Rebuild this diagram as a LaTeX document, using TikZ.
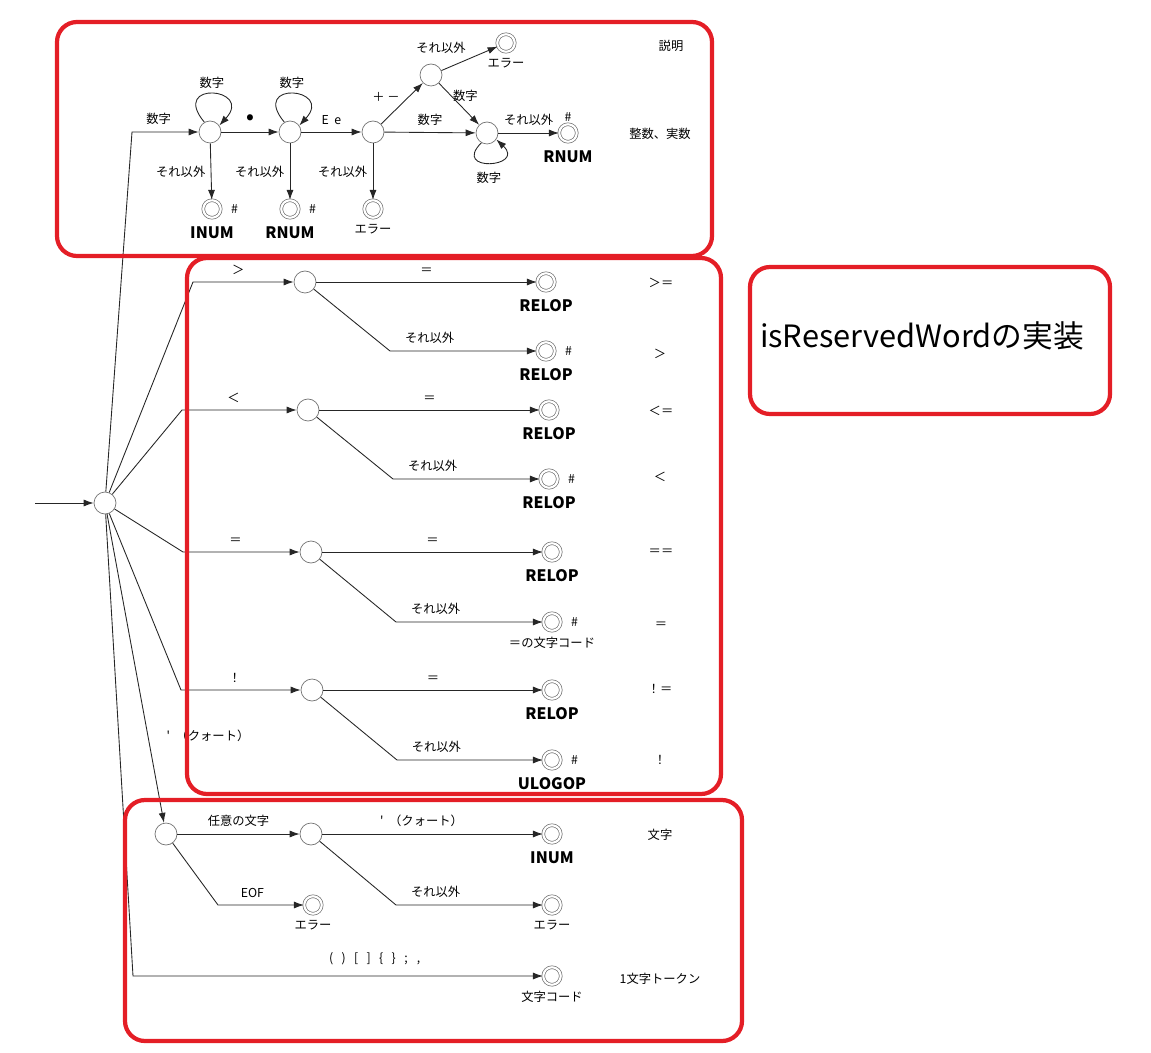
\documentclass[tikz,border=0pt]{standalone}
\usepackage{fontspec}
\setmainfont{Noto Sans CJK JP}
\usetikzlibrary{arrows.meta}
\definecolor{boxred}{RGB}{228,30,38}
\newcommand\pch[1]{\makebox[0.25cm]{#1}}
\tikzset{
  state/.style={circle,draw=black!55,fill=white,minimum size=0.44cm,inner sep=0pt},
  accept/.style={circle,draw=black!55,double=white,double distance=1.2pt,minimum size=0.35cm,inner sep=0pt},
  lbl/.style={font=\fontsize{7}{8}\selectfont,inner sep=1pt},
  hash/.style={lbl,xshift=4.5pt},
  under/.style={lbl,yshift=-2.5pt},
  tok/.style={font=\fontsize{9}{10}\selectfont\bfseries,inner sep=1pt,yshift=-3.5pt},
  arr/.style={draw=black!85,line width=0.5pt,-{Latex[length=2mm,width=1.4mm]}},
  redbox/.style={draw=boxred,line width=2.4pt,rounded corners=0.4cm},
}
\begin{document}
\begin{tikzpicture}[x=0.02cm,y=-0.02cm]
  \useasboundingbox (0,0) rectangle (1151,1053);

  % start
  \node[state] (s) at (105,503) {};
  \coordinate (in) at (35,503);
  \draw[arr] (in) -- (s);

  % numbers
  \node[state] (n1) at (210,132) {};
  \node[state] (n2) at (290,132) {};
  \node[state] (n3) at (373,132) {};
  \node[state] (n4) at (431,75) {};
  \node[state] (n5) at (487,133) {};
  \node[accept,label={[under]below:エラー}] (nerr1) at (506,43) {};
  \node[accept,label={[lbl]above:\#},label={[tok]below:RNUM}] (nrnum2) at (568,133) {};
  \node[accept,label={[hash]right:\#},label={[tok]below:INUM}] (ninum) at (212,209) {};
  \node[accept,label={[hash]right:\#},label={[tok]below:RNUM}] (nrnum1) at (290,209) {};
  \node[accept,label={[under]below:エラー}] (nerr2) at (373,209) {};

  \draw[arr] (s) -- (132,132) -- node[lbl,above=3pt,pos=0.4] (ln1) {数字} (n1);
  \draw[arr] (n1.120) .. controls +(-35,-42) and +(35,-38) .. node[lbl,above=2pt] (lloop1) {数字} (n1.35);
  \draw[arr] (n2.120) .. controls +(-35,-42) and +(35,-38) .. node[lbl,above=2pt] (lloop2) {数字} (n2.35);
  \draw[arr] (n5.240) .. controls +(-30,30) and +(30,28) .. node[lbl,below=4pt] (lloop3) {数字} (n5.325);
  \draw[arr] (n1) -- node[above=6pt,inner sep=0pt,font=\fontsize{16}{16}\selectfont\bfseries] (ldot) {.} (n2);
  \draw[arr] (n2) -- node[lbl,above=3pt] (lee) {E\ \ e} (n3);
  \draw[arr] (n3) -- node[lbl,above left=0pt] (lpm) {＋ －} (n4);
  \draw[arr] (n3) -- node[lbl,above=3pt] (ldig1) {数字} (n5);
  \draw[arr] (n4) -- (nerr1);
  \node[lbl] (lels1) at (441,48) {それ以外};
  \draw[arr] (n4) -- node[lbl,right,pos=0.3] (ldig2) {数字} (n5);
  \draw[arr] (n5) -- node[lbl,above=3pt] (lels2) {それ以外} (nrnum2);
  \draw[arr] (n1) -- node[lbl,left=2pt] (lels3) {それ以外} (ninum);
  \draw[arr] (n2) -- node[lbl,left=2pt] (lels4) {それ以外} (nrnum1);
  \draw[arr] (n3) -- node[lbl,left=2pt] (lels5) {それ以外} (nerr2);
  \node[lbl] (tsetsu) at (671,46) {説明};
  \node[lbl] (tnum) at (660,134) {整数、実数};

  % >
  \node[state] (g1) at (305,282) {};
  \node[accept,label={[tok]below:RELOP}] (ga1) at (546,282) {};
  \node[accept,label={[hash]right:\#},label={[tok]below:RELOP}] (gb1) at (546,351) {};
  \draw[arr] (s) -- (193,282) -- node[lbl,above=3pt,pos=0.45] (lgt) {＞} (g1);
  \draw[arr] (g1) -- node[lbl,above=3pt] (leq1) {＝} (ga1);
  \draw[arr] (g1) -- (390,351) -- node[lbl,above=3pt,pos=0.27] (lels6) {それ以外} (gb1);
  \node[lbl] (tge) at (661,283) {＞＝};
  \node[lbl] (tgt) at (660,354) {＞};

  % <
  \node[state] (g2) at (308,410) {};
  \node[accept,label={[tok]below:RELOP}] (ga2) at (549,410) {};
  \node[accept,label={[hash]right:\#},label={[tok]below:RELOP}] (gb2) at (549,479) {};
  \draw[arr] (s) -- (182,410) -- node[lbl,above=3pt,pos=0.45] (llt) {＜} (g2);
  \draw[arr] (g2) -- node[lbl,above=3pt] (leq2) {＝} (ga2);
  \draw[arr] (g2) -- (393,479) -- node[lbl,above=3pt,pos=0.27] (lels7) {それ以外} (gb2);
  \node[lbl] (tle) at (661,411) {＜＝};
  \node[lbl] (tlt) at (660,477) {＜};

  % =
  \node[state] (g3) at (311,552) {};
  \node[accept,label={[tok]below:RELOP}] (ga3) at (552,552) {};
  \node[accept,label={[hash]right:\#},label={[under]below:＝の文字コード}] (gb3) at (552,622) {};
  \draw[arr] (s) -- (183,552) -- node[lbl,above=3pt,pos=0.45] (leq) {＝} (g3);
  \draw[arr] (g3) -- node[lbl,above=3pt] (leq3) {＝} (ga3);
  \draw[arr] (g3) -- (396,622) -- node[lbl,above=3pt,pos=0.27] (lels8) {それ以外} (gb3);
  \node[lbl] (teqeq) at (661,552) {＝＝};
  \node[lbl] (teq) at (661,625) {＝};

  % !
  \node[state] (g4) at (312,690) {};
  \node[accept,label={[tok]below:RELOP}] (ga4) at (552,690) {};
  \node[accept,label={[hash]right:\#},label={[tok]below:ULOGOP}] (gb4) at (552,760) {};
  \draw[arr] (s) -- (181,690) -- node[lbl,above=3pt,pos=0.45] (lnot) {！} (g4);
  \draw[arr] (g4) -- node[lbl,above=3pt] (leq4) {＝} (ga4);
  \draw[arr] (g4) -- (397,760) -- node[lbl,above=3pt,pos=0.27] (lels9) {それ以外} (gb4);
  \node[lbl] (tne) at (660,689) {！＝};
  \node[lbl] (tnot) at (660,760) {！};

  % quote
  \node[state] (h1) at (166,834) {};
  \node[state] (h2) at (311,834) {};
  \node[accept,label={[tok]below:INUM}] (hchr) at (552,834) {};
  \node[accept,label={[under]below:エラー}] (herr1) at (313,905) {};
  \node[accept,label={[under]below:エラー}] (herr2) at (552,905) {};
  \node[accept,label={[under]below:文字コード}] (hcode) at (552,976) {};
  \draw[arr] (s) -- (h1);
  \node[lbl] (lquote1) at (208,736) {\textquotesingle\ \ （クォート）};
  \draw[arr] (h1) -- node[lbl,above=3pt] (lany) {任意の文字} (h2);
  \draw[arr] (h2) -- node[lbl,above=3pt,pos=0.45] (lquote2) {\textquotesingle\ \ （クォート）} (hchr);
  \draw[arr] (h1) -- (218,905) -- node[lbl,above=3pt,pos=0.4] (leof) {EOF} (herr1);
  \draw[arr] (h2) -- (396,905) -- node[lbl,above=3pt,pos=0.27] (lels10) {それ以外} (herr2);
  \draw[arr] (s) -- (133,976) -- node[lbl,above=5pt,pos=0.59] (lpunct) {\pch{(}\pch{)}\pch{[}\pch{]}\pch{\{}\pch{\}}\pch{;}\pch{,}} (hcode);
  \node[lbl] (tchr) at (660,835) {文字};
  \node[lbl] (ttok) at (660,979) {1文字トークン};

  % boxes
  \draw[redbox] (57,22) rectangle (712,256);
  \draw[redbox] (187,258) rectangle (721,794);
  \draw[redbox] (750,267) rectangle (1110,414);
  \draw[redbox] (125,800) rectangle (742,1041);
  \node[font=\fontsize{17.5}{20}\selectfont] (tres) at (922,336) {isReservedWordの実装};
\end{tikzpicture}
\end{document}
